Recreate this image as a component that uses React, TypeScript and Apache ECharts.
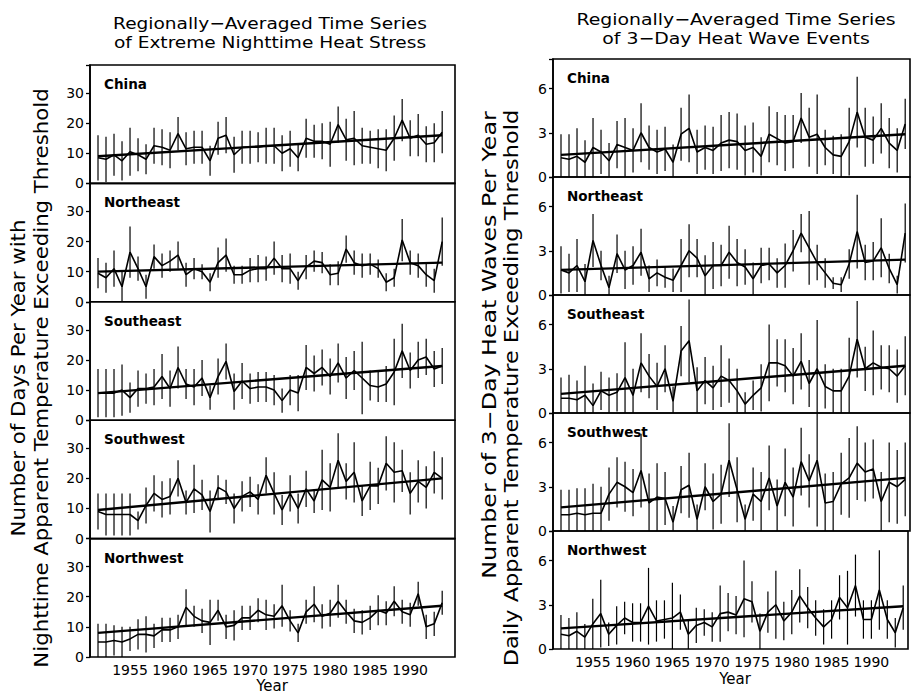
import React, { useEffect, useRef } from "react";
import * as echarts from "echarts";

const START_YEAR = 1951;
const FONT = "DejaVu Sans";

const REGIONS = ["China", "Northeast", "Southeast", "Southwest", "Northwest"];

// ---- Left: extreme nighttime heat stress (days per year) ----
const NIGHT_CHINA = [8.5,8,9.5,7.5,10.5,9.5,8,12.5,12,11, 16.5,11.5,12,12,7.5,15,16,9.5,12,12, 12,12.5,12.5,10,11.5,8.5,15,14,14,13, 19.5,14.5,15,12.5,12,11.5,11,15,21,15, 16,13,13.5,17];
const NIGHT_CHINA_ERR = [7.5,7.5,7,6.5,8,5.5,5,6,6,6, 5.5,5.5,5.5,5.5,5,5.5,6,6,5.5,5.5, 5,6,6,6,6,4.5,6.5,5.5,6,7.5, 6,7,9,6,5.5,6.5,7,7.5,7,6, 7,6,6.5,7];
const NIGHT_CHINA_TREND = [9, 16];

const NIGHT_NE = [9.5,8,11,5,16.5,11,5,15,12,13.5, 15.5,9,11,10,6.5,13,15.5,9,9,10.5, 11,11,14.5,11,11,7,11.5,13.5,13,9, 9.5,17.5,13,12,12.5,11,6.5,8,20.5,13, 12,9,7,20];
const NIGHT_NE_ERR = [5,5,6,5.5,8.5,4,4,4,4,3.5, 4.5,4,3.5,2.5,3,5,5.5,3,3,4, 4.5,4,5.5,4.5,5,3,4,3.5,3.5,3.5, 4,4.5,4,4,3.5,3,3,3,7,4, 4,4,4,8];
const NIGHT_NE_TREND = [10, 13];

const NIGHT_SE = [9,9,9,10,7.5,10.5,10.5,11,14.5,10.5, 17.5,12,11,14,7.5,14.5,19.5,9.5,13,10.5, 11,11,10,6.5,10,9,17.5,15.5,17.5,14.5, 19,14,16.5,14,11.5,11,12,16,23,16.5, 20,21,17,18];
const NIGHT_SE_ERR = [8,8,8,8.5,5,6,5,6,7.5,6, 7,5,6,6,4,6,6,6,6,5, 5,5,5,4,5,6,7.5,6,6,6, 6.5,7,6.5,12,5,5,6,11,9,6, 6,6,6,6];
const NIGHT_SE_TREND = [9, 18];

const NIGHT_SW = [9,8,8,8,8,6,11,15,13,14, 20,12,16.5,14.5,9,17,15.5,10,14,15.5, 13,21,15,9.5,15,10,16.5,12.5,19.5,17, 26,19,22,12.5,17.5,17.5,25,22,22.5,15, 19,17,22,20];
const NIGHT_SW_ERR = [6,7,7,7,7,3,6,6,6,6, 6,4,8,5,7,4,4,5,5,5, 5,6,7,5,6,5,6,4,10,8, 9,6,10,5,8,6,9,10,7,7, 7,7,7,7];
const NIGHT_SW_TREND = [9.5, 20];

const NIGHT_NW = [5,5,5.5,5,6,7.5,7.5,7,9,9, 10,16.5,13.5,12,11.5,15.5,10,10.5,13,13, 15.5,14,13.5,17,12,8,15,17.5,13.5,14.5, 18.5,15,12,11.5,13,15.5,14.5,18.5,15,14, 21,10,11,18];
const NIGHT_NW_ERR = [6,6,5,5,4,5,6,4,4,4, 4,6,3.5,4,7.5,3.5,4,5,4,4, 4,5,4,7,3.5,3,4,6,4,4.5, 5.5,4,4,4,4,5,4,5,4,4, 4,4,4,4];
const NIGHT_NW_TREND = [8, 17];

// ---- Right: 3-day heat wave events per year ----
const WAVE_CHINA = [1.3,1.2,1.4,1.0,2.0,1.7,1.1,2.2,2.0,1.8, 3.0,2.0,1.7,1.9,1.0,2.9,3.3,1.7,2.0,1.8, 2.3,2.5,2.4,1.8,2.0,1.4,2.9,2.6,2.3,2.4, 4.0,2.7,2.9,2.0,1.5,1.4,2.4,4.4,2.7,2.5, 3.3,2.3,1.8,3.6];
const WAVE_CHINA_ERR = [1.6,1.7,1.9,1.5,2.0,1.5,1.2,1.6,2.0,1.5, 2.0,1.5,1.5,1.5,1.2,1.8,2.3,1.5,1.5,1.6, 1.9,1.9,1.9,1.7,1.7,1.3,1.9,1.8,1.9,1.8, 1.7,2.0,2.7,1.2,1.3,1.5,2.3,2.4,2.0,1.6, 1.7,1.7,1.5,1.7];
const WAVE_CHINA_TREND = [1.5, 2.9];

const WAVE_NE = [1.7,1.5,2.0,0.9,3.7,2.0,0.5,2.8,1.7,2.0, 2.9,1.1,1.5,1.2,1.0,2.0,3.0,2.5,1.3,2.0, 2.0,2.9,2.2,1.9,1.1,2.0,2.1,1.5,2.0,3.0, 4.2,3.2,2.2,1.5,0.8,0.7,2.1,4.3,2.2,2.3, 3.2,1.8,0.7,4.2];
const WAVE_NE_ERR = [1.6,1.3,1.8,1.2,1.8,1.0,0.8,1.3,1.3,1.3, 1.6,0.9,0.9,0.7,0.8,1.8,1.8,1.3,1.4,1.6, 1.4,1.8,1.6,1.2,1.1,1.2,1.1,1.0,1.5,1.4, 1.3,2.5,1.2,1.0,0.4,0.5,1.0,2.5,1.2,1.3, 2.0,1.0,0.6,2.0];
const WAVE_NE_TREND = [1.7, 2.4];

const WAVE_SE = [1.0,1.0,0.9,1.2,0.5,1.5,1.2,1.4,2.4,1.2, 3.4,2.5,1.8,3.0,0.8,4.2,4.9,1.5,2.2,1.7, 2.5,2.2,1.5,0.6,1.2,1.7,3.4,3.4,3.2,2.5, 3.5,2.0,3.0,1.8,1.5,1.5,2.5,5.0,3.0,3.4, 3.1,3.0,2.5,3.2];
const WAVE_SE_ERR = [1.4,1.6,1.3,2.0,1.5,1.3,1.2,1.3,2.4,1.8, 2.0,1.5,1.6,1.6,1.0,1.7,2.8,1.6,1.6,1.5, 2.1,1.5,1.5,0.8,1.0,1.6,2.6,1.6,1.8,1.9, 1.9,1.6,3.3,1.5,1.5,1.5,2.6,2.6,1.5,2.2, 1.5,1.6,1.8,2.0];
const WAVE_SE_TREND = [1.3, 3.2];

const WAVE_SW = [1.1,1.1,1.2,1.1,1.2,1.2,2.5,3.3,3.0,2.6, 4.1,1.9,2.3,2.2,0.6,2.8,3.1,0.8,3.0,2.0, 2.5,4.8,2.8,0.8,2.5,2.0,3.6,1.7,3.3,2.3, 4.7,3.4,4.8,1.9,2.0,3.2,3.6,4.6,4.0,4.2, 2.0,3.3,3.0,3.5];
const WAVE_SW_ERR = [1.7,1.7,1.7,1.8,2.0,1.8,1.8,1.7,1.7,1.6, 2.5,2.0,2.3,1.8,1.1,1.6,2.2,1.0,1.6,1.9, 2.0,2.5,2.2,1.0,1.8,2.0,2.2,1.8,2.3,2.0, 2.3,1.8,4.5,2.0,2.0,2.1,2.7,2.5,2.0,2.0, 2.0,2.7,2.5,2.5];
const WAVE_SW_TREND = [1.6, 3.6];

const WAVE_NW = [1.0,0.9,1.2,0.8,1.7,2.4,1.0,1.6,2.1,1.8, 1.8,2.9,1.9,2.0,2.1,2.5,1.0,1.6,1.8,1.5, 2.4,2.5,2.3,3.4,3.2,1.2,2.5,3.0,1.9,2.5, 3.6,2.8,2.1,1.5,2.0,3.5,2.8,4.3,2.0,2.0, 4.0,2.0,1.1,2.8];
const WAVE_NW_ERR = [1.3,1.2,1.3,0.9,1.7,2.3,0.8,1.3,1.1,1.3, 1.3,2.6,1.4,1.3,2.4,1.2,1.0,1.2,0.9,1.0, 1.9,1.3,1.3,2.6,1.4,1.2,1.4,2.3,1.3,1.5, 1.8,1.4,1.2,1.2,1.3,1.5,2.5,2.1,1.3,1.3, 2.7,1.3,1.0,1.5];
const WAVE_NW_TREND = [1.4, 2.9];

const X_LABELS = [1955, 1960, 1965, 1970, 1975, 1980, 1985, 1990];

const NIGHT = [
  [NIGHT_CHINA, NIGHT_CHINA_ERR, NIGHT_CHINA_TREND],
  [NIGHT_NE, NIGHT_NE_ERR, NIGHT_NE_TREND],
  [NIGHT_SE, NIGHT_SE_ERR, NIGHT_SE_TREND],
  [NIGHT_SW, NIGHT_SW_ERR, NIGHT_SW_TREND],
  [NIGHT_NW, NIGHT_NW_ERR, NIGHT_NW_TREND],
];
const WAVE = [
  [WAVE_CHINA, WAVE_CHINA_ERR, WAVE_CHINA_TREND],
  [WAVE_NE, WAVE_NE_ERR, WAVE_NE_TREND],
  [WAVE_SE, WAVE_SE_ERR, WAVE_SE_TREND],
  [WAVE_SW, WAVE_SW_ERR, WAVE_SW_TREND],
  [WAVE_NW, WAVE_NW_ERR, WAVE_NW_TREND],
];

const COLS = [
  { data: NIGHT, left: 90, width: 365, top0: 65, h: 118.4, xMax: 1995.6, yMax: 39.3, yInt: 10 },
  { data: WAVE, left: 553, width: 357, top0: 59, h: 118, xMax: 1994.6, yMax: 8, yInt: 3 },
];

function buildOption() {
  const grid: any[] = [];
  const xAxis: any[] = [];
  const yAxis: any[] = [];
  const series: any[] = [];
  const graphic: any[] = [];
  let idx = 0;
  COLS.forEach((col) => {
    col.data.forEach((panel: any, r: number) => {
      const [vals, errs, trend] = panel as [number[], number[], number[]];
      grid.push({
        left: col.left,
        top: col.top0 + r * col.h,
        width: col.width,
        height: col.h,
        show: true,
        borderColor: "#000",
        borderWidth: 1.6,
        backgroundColor: "transparent",
      });
      xAxis.push({
        type: "value",
        gridIndex: idx,
        min: 1950,
        max: col.xMax,
        interval: 5,
        axisLine: { show: false },
        axisTick: { show: false },
        splitLine: { show: false },
        axisLabel: {
          show: r === 4,
          color: "#000",
          fontFamily: FONT,
          fontSize: 14,
          margin: 6,
          formatter: (v: number) => (X_LABELS.indexOf(v) >= 0 ? String(v) : ""),
        },
      });
      yAxis.push({
        type: "value",
        gridIndex: idx,
        min: 0,
        max: col.yMax,
        interval: col.yInt,
        axisLine: { show: true, lineStyle: { color: "#000", width: 1.6 } },
        axisTick: { show: true, length: 4, lineStyle: { color: "#000", width: 1.3 } },
        splitLine: { show: false },
        axisLabel: {
          color: "#000",
          fontFamily: FONT,
          fontSize: 14,
          margin: 6,
          formatter: (v: number) => (v % col.yInt === 0 ? String(v) : ""),
        },
      });
      const n = vals.length;
      series.push({
        type: "custom",
        xAxisIndex: idx,
        yAxisIndex: idx,
        clip: true,
        data: vals.map((v, j) => [START_YEAR + j, Math.max(0, v - errs[j]), v + errs[j]]),
        encode: { x: 0, y: [1, 2] },
        renderItem: (params: any, api: any) => {
          const x = api.value(0);
          const p1 = api.coord([x, api.value(1)]);
          const p2 = api.coord([x, api.value(2)]);
          return {
            type: "line",
            shape: { x1: p1[0], y1: p1[1], x2: p2[0], y2: p2[1] },
            style: { stroke: "#000", lineWidth: 1.2 },
          };
        },
        z: 2,
      });
      series.push({
        type: "line",
        xAxisIndex: idx,
        yAxisIndex: idx,
        data: vals.map((v, j) => [START_YEAR + j, v]),
        symbol: "none",
        lineStyle: { color: "#000", width: 1.6 },
        z: 3,
      });
      series.push({
        type: "line",
        xAxisIndex: idx,
        yAxisIndex: idx,
        data: [
          [START_YEAR, trend[0]],
          [START_YEAR + n - 1, trend[1]],
        ],
        symbol: "none",
        lineStyle: { color: "#000", width: 2.4 },
        z: 4,
      });
      graphic.push({
        type: "text",
        left: col.left + 14,
        top: col.top0 + r * col.h + 12,
        style: {
          text: REGIONS[r],
          font: `bold 13.5px "${FONT}"`,
          fill: "#000",
        },
      });
      idx++;
    });
  });

  const txt = (x: number, y: number, text: string, size: number, sx = 1, rot = 0) => ({
    type: "text",
    x,
    y,
    rotation: rot,
    scaleX: sx,
    style: {
      text,
      font: `${size}px "${FONT}"`,
      fill: "#000",
      align: "center",
      verticalAlign: "middle",
    },
  });

  const R = Math.PI / 2;
  graphic.push(txt(270, 23, "Regionally\u2212Averaged Time Series", 16, 1.16));
  graphic.push(txt(270, 42, "of Extreme Nighttime Heat Stress", 16, 1.16));
  graphic.push(txt(736, 20, "Regionally\u2212Averaged Time Series", 16, 1.18));
  graphic.push(txt(736, 39, "of 3\u2212Day Heat Wave Events", 16, 1.18));
  graphic.push(txt(18, 378, "Number of Days Per Year with", 19, 1.12, R));
  graphic.push(txt(41, 378, "Nighttime Apparent Temperature Exceeding Threshold", 19, 1.12, R));
  graphic.push(txt(489, 345, "Number of 3\u2212Day Heat Waves Per Year", 19, 1.25, R));
  graphic.push(txt(512, 388, "Daily Apparent Temperature Exceeding Threshold", 19, 1.18, R));
  graphic.push(txt(272, 686, "Year", 15));
  graphic.push(txt(735, 679, "Year", 15));

  return { animation: false, backgroundColor: "#fff", grid, xAxis, yAxis, series, graphic };
}

export default function App() {
  const ref = useRef<HTMLDivElement>(null);
  useEffect(() => {
    document.body.style.margin = "0";
    const chart = echarts.init(ref.current!, undefined, { renderer: "svg" });
    chart.setOption(buildOption() as any);
    return () => chart.dispose();
  }, []);
  return <div ref={ref} style={{ width: 911, height: 695 }} />;
}
